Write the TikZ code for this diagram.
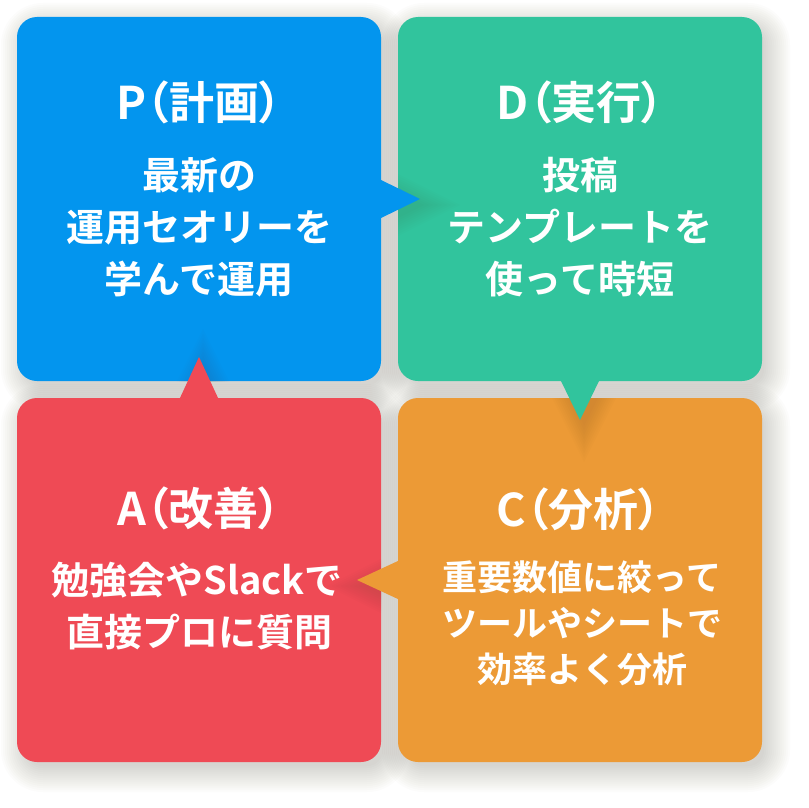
\documentclass[tikz,border=0pt]{standalone}
\usepackage{fontspec}
\newfontfamily\jpt{Noto Sans CJK JP Bold}[RawFeature=+palt]
\newfontfamily\jpb{Noto Sans CJK JP Bold}
\definecolor{cblue}{HTML}{0395EE}
\definecolor{cgreen}{HTML}{31C49D}
\definecolor{cred}{HTML}{EF4A55}
\definecolor{corange}{HTML}{EC9A36}
\definecolor{shadowc}{HTML}{5A4630}
\newcommand\boxshade[2]{%
  \foreach \r in {-4,-2,...,22}{%
    \pgfmathsetmacro\rc{20+\r}%
    \fill[shadowc,opacity=0.014,rounded corners=\rc pt]
      ({#1+6-\r},{#2+8-\r}) rectangle ({#1+370+\r},{#2+372+\r});}}
\begin{document}
\begin{tikzpicture}[x=1pt,y=-1pt,
  box/.style={rectangle, rounded corners=20pt, minimum width=364pt, minimum height=364pt, inner sep=0pt, draw=none},
  ttl/.style={text=white, font=\jpt\fontsize{45}{45}\selectfont, anchor=base, inner sep=0pt},
  bod/.style={text=white, font=\jpb\fontsize{38}{38}\selectfont, anchor=base, inner sep=0pt},
  bods/.style={text=white, font=\jpb\fontsize{35}{35}\selectfont, anchor=base, inner sep=0pt},
  tshade/.style={shadowc, opacity=0.016}]
\useasboundingbox (0,0) rectangle (808,808);
\fill[white] (0,0) rectangle (808,808);
% box shadows
\boxshade{17}{17}
\boxshade{398}{17}
\boxshade{17}{398}
\boxshade{398}{398}
% boxes
\node[box, fill=cblue]   (plan)  at (199,199) {};
\node[box, fill=cgreen]  (do)    at (580,199) {};
\node[box, fill=cred]    (act)   at (199,580) {};
\node[box, fill=corange] (check) at (580,580) {};
% triangle shadows, falling on the neighbouring box
\begin{scope}
  \clip (398,17) rectangle (762,381);
  \foreach \r in {0,2,...,16}{\pgfmathsetmacro\s{1+\r/12}
    \fill[tshade, shift={(397,205)}, scale=\s] (-12,-19.5) -- (27,0) -- (-12,19.5) -- cycle;}
\end{scope}
\begin{scope}
  \clip (398,398) rectangle (762,762);
  \foreach \r in {0,2,...,16}{\pgfmathsetmacro\s{1+\r/12}
    \fill[tshade, shift={(584,399)}, scale=\s] (-19.5,-12) -- (19.5,-12) -- (0,27) -- cycle;}
\end{scope}
\begin{scope}
  \clip (17,398) rectangle (381,762);
  \foreach \r in {0,2,...,16}{\pgfmathsetmacro\s{1+\r/12}
    \fill[tshade, shift={(390,586)}, scale=\s] (12,-19.5) -- (-27,0) -- (12,19.5) -- cycle;}
\end{scope}
\begin{scope}
  \clip (17,17) rectangle (381,381);
  \foreach \r in {0,2,...,16}{\pgfmathsetmacro\s{1+\r/12}
    \fill[tshade, shift={(203,392)}, scale=\s] (-19.5,12) -- (19.5,12) -- (0,-27) -- cycle;}
\end{scope}
% triangles
\fill[cblue]   (380,179.5) -- (420,199) -- (380,218.5) -- cycle;
\fill[cgreen]  (560.5,380) -- (580,420) -- (599.5,380) -- cycle;
\fill[corange] (399,560.5) -- (357,580) -- (399,599.5) -- cycle;
\fill[cred]    (179.5,399) -- (199,357) -- (218.5,399) -- cycle;
% texts
\node[ttl] (pT) at (199,119) {P（計画）};
\node[bod] (p1) at (199,189) {最新の};
\node[bod] (p2) at (199,241) {運用セオリーを};
\node[bod] (p3) at (199,293) {学んで運用};
\node[ttl] (dT) at (580,119) {D（実行）};
\node[bod] (d1) at (580,189) {投稿};
\node[bod] (d2) at (580,241) {テンプレートを};
\node[bod] (d3) at (580,293) {使って時短};
\node[ttl] (aT) at (199,525) {A（改善）};
\node[bod] (a1) at (197,594.5) {勉強会やSlackで};
\node[bod] (a2) at (199,646) {直接プロに質問};
\node[ttl] (cT) at (579,526) {C（分析）};
\node[bods] (c1) at (582,590.5) {重要数値に絞って};
\node[bods] (c2) at (582,636.5) {ツールやシートで};
\node[bods] (c3) at (582,682.5) {効率よく分析};
\end{tikzpicture}
\end{document}
